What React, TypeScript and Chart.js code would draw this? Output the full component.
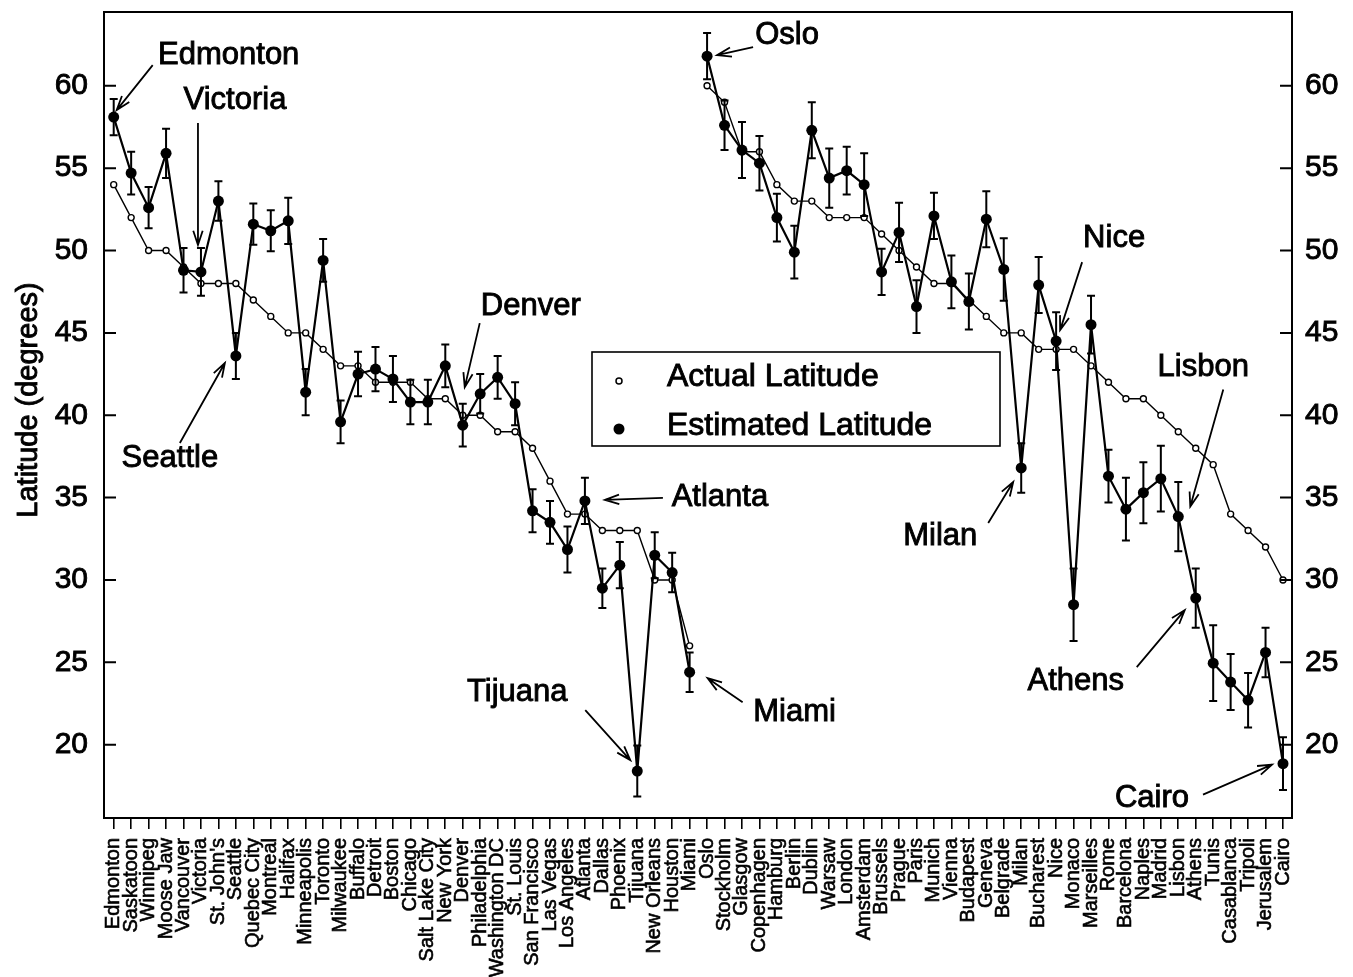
import React, { useEffect, useRef } from 'react';
import { Chart, registerables } from 'chart.js';

Chart.register(...registerables);

// Cities in plotting order: North America first, then Europe / Mediterranean.
const cities = [
  'Edmonton', 'Saskatoon', 'Winnipeg', 'Moose Jaw', 'Vancouver', 'Victoria', "St. John's", 'Seattle',
  'Quebec City', 'Montreal', 'Halifax', 'Minneapolis', 'Toronto', 'Milwaukee', 'Buffalo', 'Detroit',
  'Boston', 'Chicago', 'Salt Lake City', 'New York', 'Denver', 'Philadelphia', 'Washington DC', 'St. Louis',
  'San Francisco', 'Las Vegas', 'Los Angeles', 'Atlanta', 'Dallas', 'Phoenix', 'Tijuana', 'New Orleans',
  'Houston', 'Miami',
  'Oslo', 'Stockholm', 'Glasgow', 'Copenhagen', 'Hamburg', 'Berlin', 'Dublin', 'Warsaw',
  'London', 'Amsterdam', 'Brussels', 'Prague', 'Paris', 'Munich', 'Vienna', 'Budapest',
  'Geneva', 'Belgrade', 'Milan', 'Bucharest', 'Nice', 'Monaco', 'Marseilles', 'Rome',
  'Barcelona', 'Naples', 'Madrid', 'Lisbon', 'Athens', 'Tunis', 'Casablanca', 'Tripoli',
  'Jerusalem', 'Cairo',
];

// The last North American city; the lines break between it and Oslo.
const lastNorthAmerican = 'Miami';

const actualLatitude = [
  54, 52, 50, 50, 49, 48, 48, 48, 47, 46, 45, 45, 44, 43, 43, 42, 42, 42, 41, 41, 40, 40, 39, 39,
  38, 36, 34, 34, 33, 33, 33, 30, 30, 26,
  60, 59, 56, 56, 54, 53, 53, 52, 52, 52, 51, 50, 49, 48, 48, 47, 46, 45, 45, 44, 44, 44, 43, 42,
  41, 41, 40, 39, 38, 37, 34, 33, 32, 30,
];

const estimatedLatitude = [
  58.1, 54.7, 52.6, 55.9, 48.8, 48.7, 53.0, 43.6, 51.6, 51.2, 51.8, 41.4, 49.4, 39.6, 42.5, 42.8,
  42.2, 40.8, 40.8, 43.0, 39.4, 41.3, 42.3, 40.7, 34.2, 33.5, 31.85, 34.8, 29.5, 30.9, 18.4, 31.5,
  30.45, 24.4,
  61.8, 57.6, 56.1, 55.3, 52.0, 49.9, 57.3, 54.4, 54.85, 54.0, 48.7, 51.1, 46.6, 52.1, 48.1, 46.9,
  51.9, 48.85, 36.8, 47.9, 44.5, 28.5, 45.5, 36.3, 34.3, 35.3, 36.15, 33.85, 28.9, 24.95, 23.8, 22.7,
  25.6, 18.85,
];

// Half-length of each error bar (degrees).
const estimateError = [
  1.1, 1.3, 1.25, 1.5, 1.35, 1.45, 1.2, 1.4, 1.25, 1.25, 1.4, 1.4, 1.3, 1.3, 1.35, 1.35,
  1.4, 1.35, 1.35, 1.3, 1.3, 1.2, 1.3, 1.3, 1.3, 1.3, 1.4, 1.4, 1.2, 1.4, 1.55, 1.4,
  1.2, 1.2,
  1.4, 1.5, 1.7, 1.65, 1.45, 1.6, 1.7, 1.8, 1.45, 1.9, 1.4, 1.8, 1.6, 1.4, 1.6, 1.7,
  1.7, 1.9, 1.5, 1.7, 1.75, 2.2, 1.75, 1.6, 1.9, 1.85, 2.0, 2.1, 1.8, 2.3, 1.7, 1.65,
  1.5, 1.6,
];

const latitudeTicks = [20, 25, 30, 35, 40, 45, 50, 55, 60];

const FONT = '"Liberation Sans", Arial, Helvetica, sans-serif';
const TEXT_STROKE = 0.9;

// Named callouts; offsets are in pixels relative to the city's estimated point.
type Callout = { city: string; label: [number, number]; tail: [number, number]; tip: [number, number] };
const callouts: Callout[] = [
  { city: 'Edmonton', label: [115, -62], tail: [39, -52], tip: [3, -7] },
  { city: 'Victoria', label: [34, -171], tail: [-3, -149], tip: [-3, -27] },
  { city: 'Seattle', label: [-66, 103], tail: [-56, 87], tip: [-11, 7] },
  { city: 'Denver', label: [68, -119], tail: [17, -102], tip: [2, -38] },
  { city: 'Atlanta', label: [135, -3], tail: [78, -3], tip: [20, -1] },
  { city: 'Tijuana', label: [-120, -79], tail: [-52, -61], tip: [-7, -11] },
  { city: 'Miami', label: [105, 40], tail: [53, 30], tip: [18, 6] },
  { city: 'Oslo', label: [80, -21], tail: [46, -9], tip: [10, -1] },
  { city: 'Nice', label: [58, -103], tail: [26, -79], tip: [4, -11] },
  { city: 'Milan', label: [-81, 68], tail: [-33, 55], tip: [-8, 14] },
  { city: 'Lisbon', label: [25, -149], tail: [45, -127], tip: [12, -10] },
  { city: 'Athens', label: [-120, 83], tail: [-59, 69], tip: [-11, 12] },
  { city: 'Cairo', label: [-131, 35], tail: [-80, 31], tip: [-11, 1] },
];

const legendBox = { left: 592, top: 352, right: 1000, bottom: 446 };

function boldText(ctx: CanvasRenderingContext2D, text: string, x: number, y: number) {
  ctx.lineWidth = TEXT_STROKE;
  ctx.strokeText(text, x, y);
  ctx.fillText(text, x, y);
}

function drawArrow(ctx: CanvasRenderingContext2D, x1: number, y1: number, x2: number, y2: number) {
  const ang = Math.atan2(y2 - y1, x2 - x1);
  const head = 15;
  const spread = 0.32;
  ctx.lineWidth = 1.8;
  ctx.beginPath();
  ctx.moveTo(x1, y1);
  ctx.lineTo(x2, y2);
  ctx.moveTo(x2 - head * Math.cos(ang - spread), y2 - head * Math.sin(ang - spread));
  ctx.lineTo(x2, y2);
  ctx.lineTo(x2 - head * Math.cos(ang + spread), y2 - head * Math.sin(ang + spread));
  ctx.stroke();
}

const decorations = {
  id: 'decorations',
  afterDatasetsDraw(chart: any) {
    const { ctx, chartArea: a, scales } = chart;
    const xs = scales.x;
    const ys = scales.y;
    ctx.save();
    ctx.strokeStyle = '#000';
    ctx.fillStyle = '#000';
    ctx.lineCap = 'butt';

    // error bars on the estimates
    ctx.lineWidth = 2;
    estimatedLatitude.forEach((v, i) => {
      const x = xs.getPixelForValue(i);
      const t = ys.getPixelForValue(v + estimateError[i]);
      const b = ys.getPixelForValue(v - estimateError[i]);
      ctx.beginPath();
      ctx.moveTo(x, t);
      ctx.lineTo(x, b);
      ctx.moveTo(x - 4, t);
      ctx.lineTo(x + 4, t);
      ctx.moveTo(x - 4, b);
      ctx.lineTo(x + 4, b);
      ctx.stroke();
    });

    // plot frame
    ctx.lineWidth = 2;
    ctx.strokeRect(a.left, a.top, a.right - a.left, a.bottom - a.top);

    // inward tick marks on both latitude axes
    latitudeTicks.forEach((v) => {
      const y = ys.getPixelForValue(v);
      ctx.beginPath();
      ctx.moveTo(a.left, y);
      ctx.lineTo(a.left + 12, y);
      ctx.moveTo(a.right - 12, y);
      ctx.lineTo(a.right, y);
      ctx.stroke();
    });

    // city callouts
    ctx.font = `31px ${FONT}`;
    ctx.textAlign = 'center';
    ctx.textBaseline = 'middle';
    callouts.forEach((c) => {
      const i = cities.indexOf(c.city);
      const px = xs.getPixelForValue(i);
      const py = ys.getPixelForValue(estimatedLatitude[i]);
      boldText(ctx, c.city, px + c.label[0], py + c.label[1]);
      drawArrow(ctx, px + c.tail[0], py + c.tail[1], px + c.tip[0], py + c.tip[1]);
    });

    // legend
    const L = legendBox;
    ctx.fillStyle = '#fff';
    ctx.fillRect(L.left, L.top, L.right - L.left, L.bottom - L.top);
    ctx.lineWidth = 1.6;
    ctx.strokeRect(L.left, L.top, L.right - L.left, L.bottom - L.top);
    ctx.lineWidth = 1.5;
    ctx.beginPath();
    ctx.arc(L.left + 27, L.top + 29, 3, 0, Math.PI * 2);
    ctx.fillStyle = '#fff';
    ctx.fill();
    ctx.stroke();
    ctx.fillStyle = '#000';
    ctx.beginPath();
    ctx.arc(L.left + 27, L.top + 77, 5.5, 0, Math.PI * 2);
    ctx.fill();
    ctx.font = `32px ${FONT}`;
    ctx.textAlign = 'left';
    boldText(ctx, 'Actual Latitude', L.left + 75, L.top + 25);
    boldText(ctx, 'Estimated Latitude', L.left + 75, L.top + 74);

    // vertical axis title
    ctx.save();
    ctx.translate(29, 400);
    ctx.rotate(-Math.PI / 2);
    ctx.font = `29px ${FONT}`;
    ctx.textAlign = 'center';
    ctx.textBaseline = 'middle';
    boldText(ctx, 'Latitude (degrees)', 0, 0);
    ctx.restore();

    ctx.restore();
  },
};

export default function App() {
  const ref = useRef<HTMLCanvasElement | null>(null);

  useEffect(() => {
    if (!ref.current) return;
    const breakAt = cities.indexOf(lastNorthAmerican);
    // no connecting segment between the two regions
    const segment = {
      borderColor: (s: any) => (s.p0DataIndex === breakAt ? 'rgba(0,0,0,0)' : '#000'),
    };

    const latAxis = (position: 'left' | 'right', width: number, padding: number) => ({
      type: 'linear' as const,
      position,
      min: 15.55,
      max: 64.48,
      afterBuildTicks: (axis: any) => {
        axis.ticks = latitudeTicks.map((value) => ({ value }));
      },
      afterFit: (axis: any) => {
        axis.width = width;
        axis.paddingTop = 0;
        axis.paddingBottom = 0;
      },
      grid: { display: false, drawTicks: false },
      border: { display: false },
      ticks: {
        color: '#000',
        padding,
        textStrokeColor: '#000',
        textStrokeWidth: TEXT_STROKE,
        font: { family: FONT, size: 30 },
      },
    });

    const chart = new Chart(ref.current, {
      type: 'line',
      data: {
        datasets: [
          {
            label: 'Estimated Latitude',
            data: estimatedLatitude.map((y, x) => ({ x, y })),
            borderColor: '#000',
            borderWidth: 2.2,
            pointRadius: 5.5,
            pointBackgroundColor: '#000',
            pointBorderColor: '#000',
            pointBorderWidth: 0,
            tension: 0,
            order: 0,
            segment,
          },
          {
            label: 'Actual Latitude',
            data: actualLatitude.map((y, x) => ({ x, y })),
            borderColor: '#000',
            borderWidth: 1.4,
            pointRadius: 3,
            pointBackgroundColor: '#fff',
            pointBorderColor: '#000',
            pointBorderWidth: 1.4,
            tension: 0,
            order: 1,
            segment,
          },
        ],
      },
      options: {
        animation: false,
        responsive: false,
        devicePixelRatio: 1,
        layout: { padding: { top: 12, left: 0, right: 0, bottom: 0 } },
        plugins: {
          legend: { display: false },
          tooltip: { enabled: false },
        },
        scales: {
          x: {
            type: 'linear',
            min: -0.556,
            max: 67.516,
            afterBuildTicks: (axis: any) => {
              axis.ticks = cities.map((_, value) => ({ value }));
            },
            afterFit: (axis: any) => {
              axis.height = 159;
              axis.paddingLeft = 0;
              axis.paddingRight = 0;
            },
            grid: {
              display: true,
              drawOnChartArea: false,
              drawTicks: true,
              tickLength: 11,
              color: '#000',
              lineWidth: 1.6,
            },
            border: { display: false },
            ticks: {
              color: '#000',
              autoSkip: false,
              maxRotation: 90,
              minRotation: 90,
              padding: 9,
              textStrokeColor: '#000',
              textStrokeWidth: 0.6,
              font: { family: FONT, size: 20 },
              callback: (value: any) => cities[Math.round(Number(value))] ?? '',
            },
          },
          y: latAxis('left', 104, 16),
          y2: latAxis('right', 61, 13),
        },
      },
      plugins: [decorations],
    });
    return () => chart.destroy();
  }, []);

  return (
    <canvas
      ref={ref}
      width={1353}
      height={977}
      style={{ position: 'fixed', left: 0, top: 0, width: 1353, height: 977, display: 'block', background: '#fff' }}
    />
  );
}
